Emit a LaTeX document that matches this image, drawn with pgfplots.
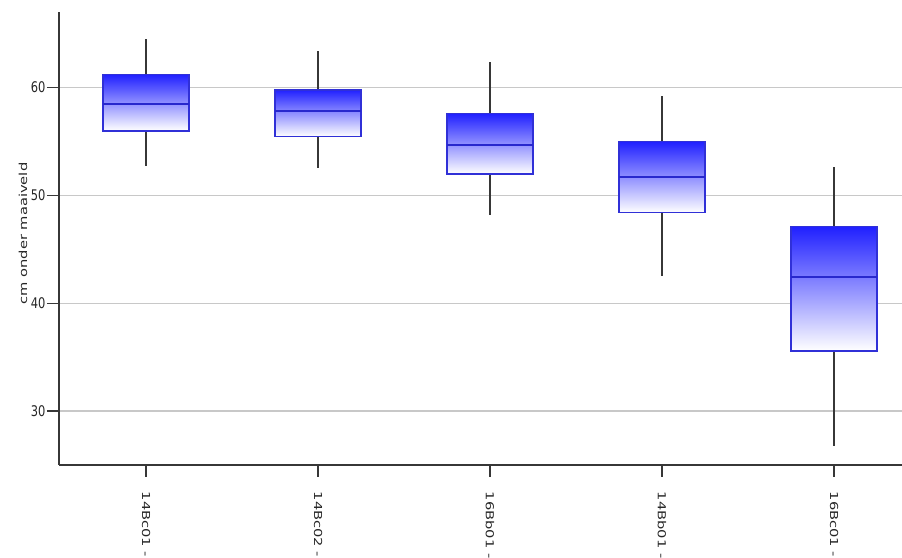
\documentclass[border=0pt]{standalone}
\usepackage{graphicx}
\usepackage{pgfplots}
\pgfplotsset{compat=1.18}
\usepgfplotslibrary{statistics}
\usepackage{fontspec}
\setmainfont{DejaVu Sans}

\definecolor{boxblue}{RGB}{32,32,255}
\definecolor{boxedge}{RGB}{48,48,215}
\definecolor{medblue}{RGB}{40,40,205}
\definecolor{gridgray}{RGB}{200,200,200}
\definecolor{axisgray}{RGB}{55,55,55}

% narrow-set labels, as drawn by the charting tool
\newcommand{\narrowx}[1]{\scalebox{0.78}[1]{#1}}
\newcommand{\narrowy}[1]{\scalebox{1}[0.75]{#1}}

\begin{document}
\begin{tikzpicture}
\begin{axis}[
  scale only axis,
  width=632.25pt, height=339.75pt,
  xmin=-0.506, xmax=4.395,
  ymin=25, ymax=67,
  axis lines=left,
  axis line style={-, axisgray, line width=1.1pt},
  ytick={30,40,50,60},
  yticklabel={\narrowx{\pgfmathprintnumber{\tick}}},
  xtick={0,1,2,3,4},
  xticklabels={\narrowy{14Bc01 -}, \narrowy{14Bc02 -}, \narrowy{16Bb01 -}, \narrowy{14Bb01 -}, \narrowy{16Bc01 -}},
  /pgf/number format/assume math mode=true,
  tick align=outside,
  major tick length=9pt,
  tick style={axisgray, line width=0.9pt},
  ymajorgrids,
  grid style={gridgray, line width=1pt},
  font=\fontsize{11pt}{13pt}\selectfont,
  tick label style={font=\fontsize{11pt}{13pt}\selectfont, text=black!85},
  y tick label style={inner xsep=1pt},
  x tick label style={yshift=-7.5pt, rotate=-90, anchor=west},
  ylabel={\narrowy{cm onder maaiveld}},
  every axis y label/.style={at={(axis description cs:-0.0427,0.511)}, rotate=90, anchor=center, font=\fontsize{11pt}{13pt}\selectfont, text=black!85},
  clip=false,
  boxplot/draw direction=y,
  boxplot/box extend=0.5,
  boxplot/whisker extend=0,
  boxplot/every box/.style={draw=boxedge, line width=1.3pt, top color=boxblue, bottom color=white},
  boxplot/every median/.style={draw=medblue, line width=1.3pt},
  boxplot/every whisker/.style={draw=axisgray, line width=1pt},
]
% one prepared box per monitoring point
\addplot[boxplot prepared={lower whisker=52.75, lower quartile=56.0, median=58.5, upper quartile=61.2, upper whisker=64.45, draw position=0}] coordinates {};
\addplot[boxplot prepared={lower whisker=52.5, lower quartile=55.45, median=57.8, upper quartile=59.8, upper whisker=63.4, draw position=1}] coordinates {};
\addplot[boxplot prepared={lower whisker=48.2, lower quartile=52.0, median=54.7, upper quartile=57.6, upper whisker=62.4, draw position=2}] coordinates {};
\addplot[boxplot prepared={lower whisker=42.5, lower quartile=48.4, median=51.7, upper quartile=55.0, upper whisker=59.2, draw position=3}] coordinates {};
\addplot[boxplot prepared={lower whisker=26.8, lower quartile=35.6, median=42.4, upper quartile=47.1, upper whisker=52.6, draw position=4}] coordinates {};
\end{axis}
\pgfresetboundingbox
\path[use as bounding box] ([xshift=-44.25pt, yshift=-69.75pt]current axis.south west) rectangle ([yshift=9pt]current axis.north east);
\end{tikzpicture}
\end{document}
